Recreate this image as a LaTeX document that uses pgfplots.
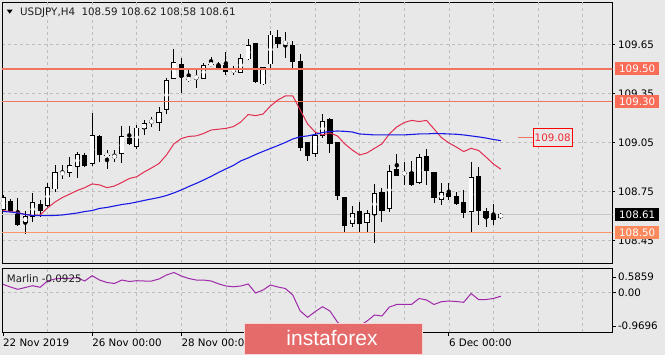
\documentclass[border=0pt]{standalone}
\usepackage{fontspec}
\setmainfont{DejaVu Sans}
\newfontfamily\logofont{Liberation Sans}
\usepackage{pgfplots}
\usepackage{pgfplotstable}
\pgfplotsset{compat=1.18}
\definecolor{bgc}{RGB}{232,232,232}
\definecolor{gridc}{RGB}{190,190,190}
\definecolor{redma}{RGB}{225,45,80}
\definecolor{bluema}{RGB}{25,25,230}
\definecolor{lvla}{RGB}{240,118,100}
\definecolor{lvlb}{RGB}{248,150,112}
\definecolor{boxa}{RGB}{248,108,88}
\definecolor{boxb}{RGB}{252,138,92}
\definecolor{bidc}{RGB}{200,200,200}
\definecolor{marlinc}{RGB}{160,40,170}
\definecolor{logoc}{RGB}{229,107,107}
\definecolor{logoedge}{RGB}{245,215,215}
\definecolor{lblred}{RGB}{240,40,50}
\definecolor{txtc}{RGB}{30,30,30}
\newcommand\lbl{\fontsize{10.3}{12}\selectfont}

\pgfplotstableread{
i o h l c
0 108.637 108.728 108.626 108.716
3 108.555 108.632 108.488 108.602
4 108.596 108.739 108.565 108.687
6 108.661 108.804 108.657 108.779
7 108.763 108.910 108.749 108.869
8 108.857 108.910 108.826 108.866
9 108.866 108.961 108.842 108.910
10 108.900 108.992 108.832 108.978
12 108.918 109.229 108.910 109.094
14 108.973 109.002 108.886 108.973
15 108.958 109.007 108.932 108.970
16 108.978 109.151 108.926 109.090
18 109.024 109.157 109.008 109.142
19 109.131 109.188 109.096 109.169
20 109.179 109.209 109.147 109.179
21 109.169 109.267 109.117 109.237
22 109.249 109.443 109.223 109.433
23 109.439 109.622 109.437 109.541
25 109.439 109.500 109.422 109.439
26 109.449 109.508 109.385 109.449
27 109.437 109.535 109.436 109.524
28 109.529 109.572 109.524 109.529
31 109.490 109.520 109.467 109.490
32 109.477 109.590 109.475 109.569
33 109.559 109.684 109.558 109.647
35 109.406 109.512 109.405 109.510
36 109.529 109.733 109.494 109.712
38 109.661 109.725 109.565 109.661
42 108.978 109.116 108.963 109.096
43 109.090 109.223 109.079 109.183
47 108.549 108.661 108.534 108.618
49 108.555 108.637 108.504 108.616
50 108.606 108.800 108.433 108.739
52 108.643 108.912 108.626 108.877
54 108.861 108.932 108.790 108.861
56 108.800 108.978 108.799 108.959
59 108.698 108.800 108.667 108.745
63 108.626 108.932 108.500 108.840
67 108.590 108.620 108.580 108.610
}\upbars

\pgfplotstableread{
i o h l c
1 108.692 108.702 108.626 108.632
2 108.610 108.708 108.539 108.545
5 108.677 108.698 108.596 108.632
11 108.971 108.987 108.900 108.904
13 109.090 109.096 108.932 108.973
17 109.079 109.153 109.035 109.039
24 109.529 109.565 109.351 109.449
29 109.524 109.541 109.506 109.508
30 109.524 109.606 109.463 109.483
34 109.661 109.662 109.417 109.419
37 109.698 109.739 109.627 109.651
39 109.647 109.673 109.494 109.541
40 109.551 109.596 109.001 109.016
41 109.051 109.053 108.937 108.969
44 109.198 109.200 108.987 109.039
45 109.051 109.053 108.698 108.724
46 108.718 108.719 108.504 108.539
48 108.630 108.687 108.504 108.549
51 108.749 108.775 108.565 108.632
53 108.886 108.978 108.842 108.845
55 108.867 108.937 108.787 108.788
57 108.969 109.008 108.790 108.877
58 108.867 108.869 108.681 108.708
60 108.739 108.800 108.698 108.718
61 108.724 108.749 108.667 108.673
62 108.687 108.763 108.586 108.622
64 108.845 108.902 108.545 108.630
65 108.630 108.651 108.534 108.589
66 108.606 108.673 108.545 108.575
}\downbars

\pgfplotstableread{
i red blue
0 108.633 108.627
1 108.627 108.624
2 108.621 108.618
3 108.609 108.609
4 108.603 108.603
5 108.606 108.602
6 108.649 108.602
7 108.685 108.603
8 108.713 108.606
9 108.734 108.612
10 108.756 108.618
11 108.773 108.627
12 108.796 108.633
13 108.790 108.646
14 108.773 108.652
15 108.783 108.661
16 108.805 108.670
17 108.829 108.676
18 108.840 108.685
19 108.869 108.695
20 108.894 108.704
21 108.921 108.713
22 108.973 108.725
23 109.041 108.741
24 109.074 108.759
25 109.087 108.780
26 109.090 108.799
27 109.105 108.820
28 109.126 108.842
29 109.131 108.866
30 109.136 108.888
31 109.147 108.909
32 109.175 108.937
33 109.221 108.955
34 109.214 108.976
35 109.224 108.995
36 109.273 109.013
37 109.310 109.031
38 109.335 109.050
39 109.335 109.071
40 109.249 109.085
41 109.163 109.090
42 109.114 109.099
43 109.096 109.111
44 109.108 109.117
45 109.090 109.120
46 109.041 109.118
47 109.004 109.114
48 108.973 109.102
49 108.986 109.099
50 109.014 109.096
51 109.041 109.096
52 109.102 109.096
53 109.145 109.096
54 109.172 109.096
55 109.185 109.099
56 109.178 109.102
57 109.185 109.102
58 109.133 109.105
59 109.080 109.104
60 109.047 109.102
61 109.022 109.100
62 108.994 109.096
63 109.014 109.090
64 109.001 109.084
65 108.961 109.077
66 108.918 109.068
67 108.886 109.061
}\mas

\pgfplotstableread{
i m
0 0.197
1 0.131
2 0.075
3 0.119
4 0.163
5 0.124
6 0.277
7 0.326
8 0.343
9 0.343
10 0.357
11 0.277
12 0.406
13 0.301
14 0.241
15 0.216
16 0.301
17 0.265
18 0.284
19 0.277
20 0.277
21 0.326
22 0.423
23 0.484
24 0.399
25 0.338
26 0.301
27 0.301
28 0.277
29 0.209
30 0.156
31 0.136
32 0.156
33 0.204
34 -0.015
35 0.058
36 0.180
37 0.131
38 0.095
39 -0.063
40 -0.452
41 -0.605
42 -0.469
43 -0.348
44 -0.452
45 -0.719
46 -0.865
47 -0.914
48 -0.817
49 -0.695
50 -0.549
51 -0.574
52 -0.355
53 -0.294
54 -0.289
55 -0.289
56 -0.148
57 -0.185
58 -0.294
59 -0.226
60 -0.209
61 -0.221
62 -0.241
63 -0.027
64 -0.173
65 -0.173
66 -0.148
67 -0.0925
}\marlin

\pgfplotsset{
  wick/.style={only marks, mark=none, forget plot, black,
    error bars/.cd, y dir=both, y explicit, error mark=none,
    error bar style={line width=0.9pt, black}},
  body/.style={only marks, mark=none, forget plot, #1,
    error bars/.cd, y dir=both, y explicit, error mark=none,
    error bar style={line width=5.2pt, #1}},
  inner/.style={only marks, mark=none, forget plot, white,
    error bars/.cd, y dir=both, y explicit, error mark=none,
    error bar style={line width=3.4pt, white}},
}

\begin{document}
\begin{tikzpicture}[x=1pt,y=1pt]
\fill[bgc] (0,0) rectangle (665,355);
\useasboundingbox (0,0) rectangle (665,355);

\begin{axis}[
  at={(2pt,91.7pt)}, anchor=south west, scale only axis,
  width=610.3pt, height=261.3pt,
  xmin=-0.13, xmax=82, ymin=108.31, ymax=109.91,
  axis line style={black, line width=0.9pt},
  xtick=\empty,
  extra x ticks={6,12,...,78}, extra x tick labels={},
  extra x tick style={grid=major, major tick length=0pt},
  ytick={108.45,108.75,109.05,109.35,109.65},
  yticklabels={108.45,108.75,109.05,109.35,109.65},
  ytick pos=right, yticklabel pos=right, tick align=outside,
  major tick length=3pt,
  ytick style={black, line width=0.8pt},
  yticklabel style={anchor=west, inner sep=0pt, xshift=2.5pt, font=\lbl, text=black},
  ymajorgrids=true,
  major grid style={gridc, line width=0.6pt, dash pattern=on 3pt off 3pt},
  clip mode=individual,
]
% bid line
\addplot[bidc, line width=1pt, forget plot] coordinates {(-1,108.61) (83,108.61)};
% wicks
\addplot[wick] table[x=i, y expr={(\thisrow{h}+\thisrow{l})/2}, y error expr={(\thisrow{h}-\thisrow{l})/2}] {\upbars};
\addplot[wick] table[x=i, y expr={(\thisrow{h}+\thisrow{l})/2}, y error expr={(\thisrow{h}-\thisrow{l})/2}] {\downbars};
% bodies
\addplot[body=black] table[x=i, y expr={(\thisrow{o}+\thisrow{c})/2}, y error expr={max(abs(\thisrow{c}-\thisrow{o})/2,0.0031)}] {\upbars};
\addplot[inner] table[x=i, y expr={(\thisrow{o}+\thisrow{c})/2}, y error expr={max(abs(\thisrow{c}-\thisrow{o})/2-0.0055,0)}] {\upbars};
\addplot[body=black] table[x=i, y expr={(\thisrow{o}+\thisrow{c})/2}, y error expr={max(abs(\thisrow{c}-\thisrow{o})/2,0.0031)}] {\downbars};
% levels
\addplot[lvla, line width=1.1pt, forget plot] coordinates {(-1,109.50) (83,109.50)};
\addplot[lvla, line width=1.1pt, forget plot] coordinates {(-1,109.30) (83,109.30)};
\addplot[lvlb, line width=1.1pt, forget plot] coordinates {(-1,108.50) (83,108.50)};
\addplot[lvla, line width=1.3pt, forget plot] coordinates {(69.3,109.08) (71.3,109.08)};
% moving averages
\addplot[redma, line width=1pt] table[x=i, y=red] {\mas};
\addplot[bluema, line width=1.1pt] table[x=i, y=blue] {\mas};
% right labels
\node[anchor=west, fill=boxa, text=white, inner sep=0pt, minimum width=44pt, minimum height=13pt, font=\lbl] at (axis cs:82.36,109.50) {109.50};
\node[anchor=west, fill=boxa, text=white, inner sep=0pt, minimum width=44pt, minimum height=13pt, font=\lbl] at (axis cs:82.36,109.30) {109.30};
\node[anchor=west, fill=boxb, text=white, inner sep=0pt, minimum width=44pt, minimum height=13pt, font=\lbl] at (axis cs:82.36,108.50) {108.50};
\node[anchor=west, fill=black, text=white, inner sep=0pt, minimum width=44pt, minimum height=12.5pt, font=\lbl] at (axis cs:82.36,108.61) {108.61};
\node[anchor=west, fill=bgc, draw=red, line width=0.9pt, text=lblred, inner sep=0pt, minimum width=39pt, minimum height=18pt, font=\lbl] at (axis cs:71.3,109.08) {109.08};
\end{axis}

\begin{axis}[
  at={(2pt,22.7pt)}, anchor=south west, scale only axis,
  width=610.3pt, height=64pt,
  xmin=-0.13, xmax=82, ymin=-0.9696, ymax=0.5859,
  axis line style={black, line width=0.9pt},
  xtick={0,12,24,60},
  xticklabels={22 Nov 2019,26 Nov 00:00,28 Nov 00:00,6 Dec 00:00},
  xtick pos=bottom,
  xticklabel style={anchor=north west, inner sep=0pt, yshift=-2.7pt, font=\lbl, text=black},
  extra x ticks={6,12,...,78}, extra x tick labels={},
  extra x tick style={grid=major, major tick length=0pt},
  ytick={0}, yticklabels={0.00},
  extra y ticks={-0.817,0.374}, extra y tick labels={-0.9696,0.5859},
  extra y tick style={grid=none},
  ytick pos=right, yticklabel pos=right, tick align=outside,
  major tick length=3.5pt,
  tick style={black, line width=0.8pt},
  yticklabel style={anchor=west, inner sep=0pt, xshift=2pt, font=\lbl, text=black},
  ymajorgrids=true,
  major grid style={gridc, line width=0.6pt, dash pattern=on 3pt off 3pt},
  clip mode=individual,
]
\addplot[marlinc, line width=1pt] table[x=i, y=m] {\marlin};
\node[anchor=west, inner sep=0pt, font=\lbl, text=txtc, xshift=4.7pt, yshift=-10pt] at (rel axis cs:0,1) {Marlin -0.0925};
\end{axis}

% title
\fill[black] (6.8,345.3) -- (12.6,345.3) -- (9.7,341.3) -- cycle;
\node[anchor=west, inner sep=0pt, font=\lbl, text=txtc] at (20,342.7) {USDJPY,H4\ \ 108.59 108.62 108.58 108.61};

% logo
\fill[logoc] (244,0) rectangle (422.7,32);
\draw[logoedge, line width=0.9pt] (244.4,1) -- (244.4,31.6) -- (422.3,31.6) -- (422.3,1) -- cycle;
\node[text=white, font=\logofont\fontsize{21}{22}\selectfont, inner sep=0pt] at (332,16.5) {instaforex};
\end{tikzpicture}
\end{document}
